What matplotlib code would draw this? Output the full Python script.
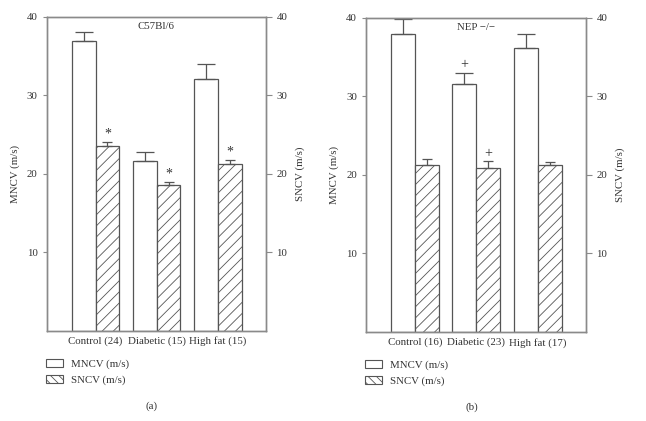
import numpy as np
import matplotlib.pyplot as plt
from matplotlib.patches import Patch

plt.rcParams['font.family'] = ['Liberation Serif', 'DejaVu Serif']
plt.rcParams['hatch.linewidth'] = 0.6
plt.rcParams['hatch.color'] = '#444444'

# data
groups_a = ['Control (24)', 'Diabetic (15)', 'High fat (15)']
mncv_a = [36.9, 21.6, 32.1]
mncv_a_err = [1.2, 1.2, 1.9]
sncv_a = [23.5, 18.6, 21.3]
sncv_a_err = [0.5, 0.4, 0.4]
marks_a = ['*', '*', '*']
mncv_marks_a = ['', '', '']

groups_b = ['Control (16)', 'Diabetic (23)', 'High fat (17)']
mncv_b = [37.9, 31.5, 36.2]
mncv_b_err = [1.9, 1.5, 1.7]
sncv_b = [21.2, 20.9, 21.2]
sncv_b_err = [0.8, 0.8, 0.4]
marks_b = ['', '+', '']
mncv_marks_b = ['', '+', '']

edge = '#555555'
spine = '#8a8a8a'
txt = '#333333'
fs = 7.8


def panel(ax, groups, mncv, mncv_err, sncv, sncv_err, mmarks, smarks, title, letter):
    x = np.arange(len(groups))
    w = 0.39
    ax.bar(x - w / 2, mncv, w, color='white', edgecolor=edge, linewidth=0.9,
           yerr=[np.zeros(len(mncv)), mncv_err], capsize=6.5,
           error_kw=dict(ecolor=edge, elinewidth=0.9, capthick=0.9))
    ax.bar(x + w / 2, sncv, w, color='white', edgecolor=edge, linewidth=0.9, hatch='///',
           yerr=[np.zeros(len(sncv)), sncv_err], capsize=3.5,
           error_kw=dict(ecolor=edge, elinewidth=0.9, capthick=0.9))
    for i in range(len(groups)):
        if mmarks[i]:
            ax.text(x[i] - w / 2, mncv[i] + mncv_err[i] + 0.2, mmarks[i], ha='center',
                    va='bottom', fontsize=10, color=txt)
        if smarks[i]:
            ax.text(x[i] + w / 2, sncv[i] + sncv_err[i] + 0.2, smarks[i], ha='center',
                    va='bottom', fontsize=10, color=txt)
    ax.set_xlim(-0.8, 2.79)
    ax.set_ylim(0, 40)
    ax.set_xticks(x)
    ax.set_xticklabels(groups, fontsize=fs, color=txt)
    ax.tick_params(axis='x', length=0, pad=4)
    ax.set_yticks([10, 20, 30, 40])
    ax.tick_params(axis='y', labelsize=fs, colors=txt, length=3, width=0.8, color=spine)
    ax.set_ylabel('MNCV (m/s)', fontsize=fs, color=txt, labelpad=5)
    for s in ax.spines.values():
        s.set_color(spine)
        s.set_linewidth(1.0)
    ax.text(0.5, 0.983, title, transform=ax.transAxes, ha='center', va='top',
            fontsize=fs, color=txt)

    ax2 = ax.twinx()
    ax2.set_ylim(0, 40)
    ax2.set_yticks([10, 20, 30, 40])
    ax2.tick_params(axis='y', labelsize=fs, colors=txt, length=4, width=0.8, color=spine)
    ax2.set_ylabel('SNCV (m/s)', fontsize=fs, color=txt, labelpad=6)
    for s in ax2.spines.values():
        s.set_color(spine)
        s.set_linewidth(1.0)

    handles = [Patch(facecolor='white', edgecolor=edge, linewidth=0.8),
               Patch(facecolor='white', edgecolor=edge, linewidth=0.8, hatch='\\\\\\\\')]
    ax.legend(handles, ['MNCV (m/s)', 'SNCV (m/s)'], loc='upper left',
              bbox_to_anchor=(-0.005, -0.09), frameon=False, fontsize=fs,
              handlelength=1.6, handleheight=0.7, handletextpad=0.7,
              labelspacing=0.55, borderpad=0, borderaxespad=0,
              labelcolor=txt)
    ax.text(0.48, -0.24, letter, transform=ax.transAxes, ha='center', va='center',
            fontsize=fs, color=txt)


fig = plt.figure(figsize=(6.46, 4.21), dpi=100)
ax_a = fig.add_axes([0.0723, 0.2138, 0.3395, 0.7466])
ax_b = fig.add_axes([0.5666, 0.2114, 0.3406, 0.7466])

panel(ax_a, groups_a, mncv_a, mncv_a_err, sncv_a, sncv_a_err, mncv_marks_a, marks_a,
      'C57Bl/6', '(a)')
panel(ax_b, groups_b, mncv_b, mncv_b_err, sncv_b, sncv_b_err, mncv_marks_b, marks_b,
      'NEP \u2212/\u2212', '(b)')

fig.savefig('out.png', dpi=100)
